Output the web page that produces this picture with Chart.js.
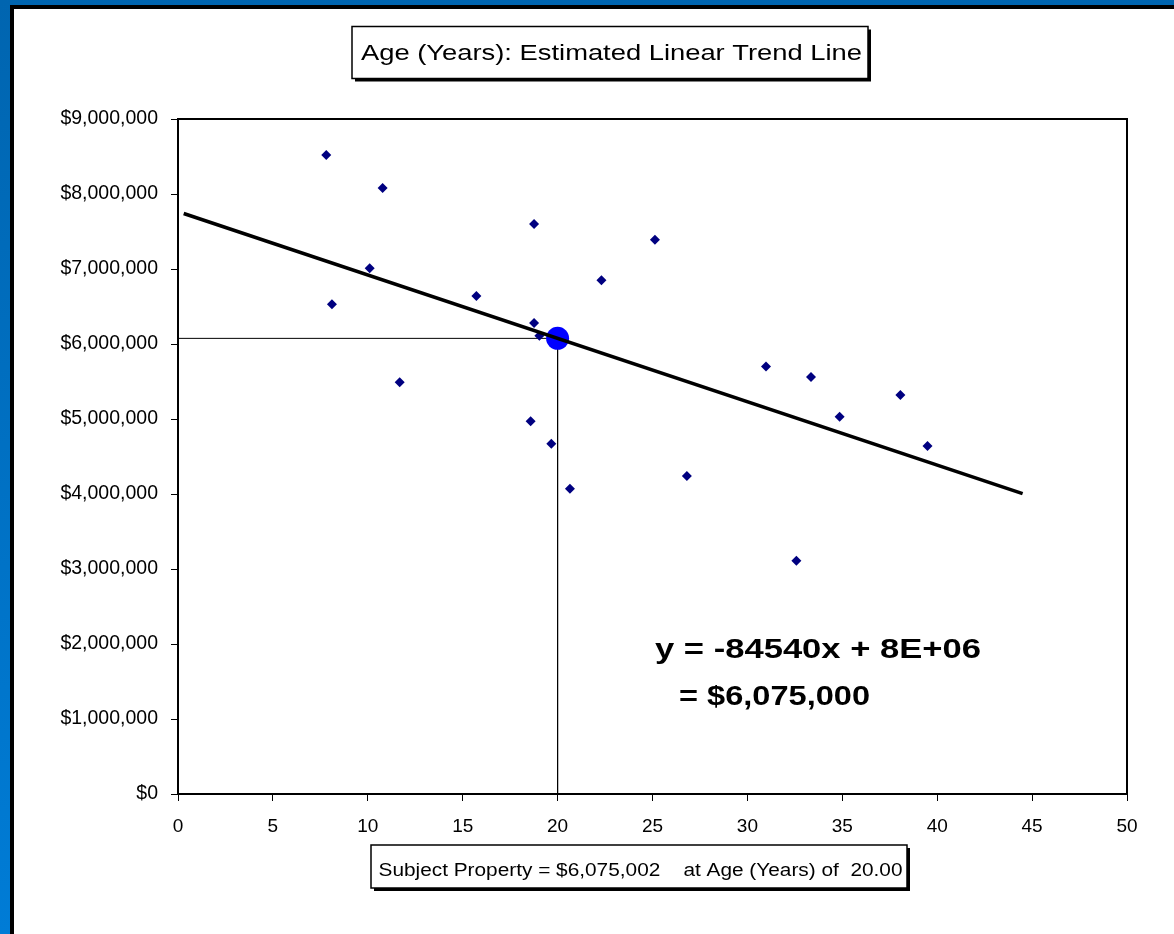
<!DOCTYPE html>
<html>
<head>
<meta charset="utf-8">
<script src="https://cdn.jsdelivr.net/npm/chart.js@4"></script>
<style>
    body { margin: 0; overflow: hidden; font-family: 'Liberation Sans', Arial, sans-serif; }
    #frame { position: absolute; left: 0; top: 0; width: 1174px; height: 934px; background: linear-gradient(#0065b0, #007cd6); }
    #panel { position: absolute; left: 10px; top: 5px; width: 1164px; height: 929px; background: #fff; border-left: 4px solid #000; border-top: 4px solid #000; box-sizing: border-box; }
    #chart { position: absolute; left: 0; top: 0; }
</style>
</head>
<body>
<div id="frame"><div id="panel"></div></div>
<canvas id="chart" width="1174" height="934"></canvas>
<script>
// Comparables: age (years) and sale price
let ages = [7.81, 10.78, 18.76, 10.10, 8.11, 15.72, 22.31, 18.76, 19.04, 11.68, 18.58, 19.67, 25.13, 30.98, 33.35, 38.06, 34.86, 39.49, 20.65, 26.81, 32.58];
let prices = [8520000, 8080000, 7600000, 7010000, 6530000, 6640000, 6850000, 6280000, 6110000, 5490000, 4970000, 4670000, 7390000, 5700000, 5560000, 5320000, 5030000, 4640000, 4070000, 4240000, 3110000];

// Subject property
let subjectAge = [20];
let subjectValue = [6075002];

// Trend line end points, and guide lines to the axes
let trendAges = [0.3, 44.5];
let trendValues = [7740000, 4004000];
let guideAges = [0, 20, 20];
let guideValues = [6075002, 6075002, 0];

let xTicks = [0, 5, 10, 15, 20, 25, 30, 35, 40, 45, 50];
let yTicks = [0, 1000000, 2000000, 3000000, 4000000, 5000000, 6000000, 7000000, 8000000, 9000000];

const FONT = "'Liberation Sans', Arial, sans-serif";

function toPoints(xs, ys) {
    return xs.map((x, i) => ({ x: x, y: ys[i] }));
}

// texto esticado na horizontal, como no original
function fitText(ctx, text, x, baseline, width, font) {
    ctx.save();
    ctx.font = font;
    let w = ctx.measureText(text).width;
    ctx.translate(x, baseline);
    ctx.scale(width / w, 1);
    ctx.fillStyle = '#000';
    ctx.textAlign = 'left';
    ctx.textBaseline = 'alphabetic';
    ctx.fillText(text, 0, 0);
    ctx.restore();
}

function shadowBox(ctx, x, y, w, h) {
    ctx.fillStyle = '#000';
    ctx.fillRect(x + 3, y + 3, w, h);
    ctx.fillStyle = '#fff';
    ctx.fillRect(x, y, w, h);
    ctx.strokeStyle = '#000';
    ctx.lineWidth = 1.5;
    ctx.strokeRect(x, y, w, h);
}

const plotFrame = {
    id: 'plotFrame',
    beforeDatasetsDraw(chart) {
        let a = chart.chartArea;
        let ctx = chart.ctx;
        ctx.save();
        ctx.strokeStyle = '#000';
        ctx.lineWidth = 2;
        ctx.strokeRect(a.left, a.top, a.right - a.left, a.bottom - a.top);
        ctx.restore();
    },
    afterDraw(chart) {
        let ctx = chart.ctx;
        shadowBox(ctx, 352, 26.5, 516, 52);
        fitText(ctx, 'Age (Years): Estimated Linear Trend Line', 361, 59.5, 501, `22px ${FONT}`);

        shadowBox(ctx, 371, 845, 536, 43);
        fitText(ctx, 'Subject Property = $6,075,002    at Age (Years) of  20.00', 378.5, 876, 524, `17.5px ${FONT}`);

        fitText(ctx, 'y = -84540x + 8E+06', 655, 658, 326, `bold 27px ${FONT}`);
        fitText(ctx, '= $6,075,000', 679, 705, 191, `bold 27px ${FONT}`);
    }
};

new Chart(document.getElementById('chart'), {
    type: 'scatter',
    data: {
        datasets: [
            {
                type: 'line',
                data: toPoints(trendAges, trendValues),
                borderColor: '#000',
                borderWidth: 3.5,
                pointRadius: 0
            },
            {
                data: toPoints(subjectAge, subjectValue),
                pointStyle: 'circle',
                pointRadius: 11.5,
                backgroundColor: '#0000ff',
                borderColor: '#0000ff',
                borderWidth: 0
            },
            {
                data: toPoints(ages, prices),
                pointStyle: 'rectRot',
                pointRadius: 5,
                backgroundColor: '#000080',
                borderColor: '#000080',
                borderWidth: 0
            },
            {
                type: 'line',
                data: toPoints(guideAges, guideValues),
                borderColor: '#000',
                borderWidth: 1,
                pointRadius: 0
            }
        ]
    },
    options: {
        responsive: false,
        devicePixelRatio: 1,
        animation: false,
        layout: { padding: { left: 0, top: 119, right: 47, bottom: 0 } },
        plugins: {
            legend: { display: false },
            tooltip: { enabled: false }
        },
        scales: {
            x: {
                type: 'linear',
                min: xTicks[0],
                max: xTicks[xTicks.length - 1],
                afterFit: (scale) => { scale.height = 140; },
                afterBuildTicks: (scale) => { scale.ticks = xTicks.map(v => ({ value: v })); },
                border: { display: false },
                grid: { drawOnChartArea: false, drawTicks: true, tickLength: 7, color: '#000', lineWidth: 1 },
                ticks: {
                    color: '#000',
                    padding: 14,
                    maxRotation: 0,
                    font: { family: FONT, size: 19 }
                }
            },
            y: {
                type: 'linear',
                min: yTicks[0],
                max: yTicks[yTicks.length - 1],
                afterFit: (scale) => { scale.width = 178; },
                afterBuildTicks: (scale) => { scale.ticks = yTicks.map(v => ({ value: v })); },
                border: { display: false },
                grid: { drawOnChartArea: false, drawTicks: true, tickLength: 7, color: '#000', lineWidth: 1 },
                ticks: {
                    color: '#000',
                    padding: 13,
                    font: { family: FONT, size: 19.5 },
                    callback: (v) => '$' + v.toLocaleString('en-US')
                }
            }
        }
    },
    plugins: [plotFrame]
});
</script>
</body>
</html>
